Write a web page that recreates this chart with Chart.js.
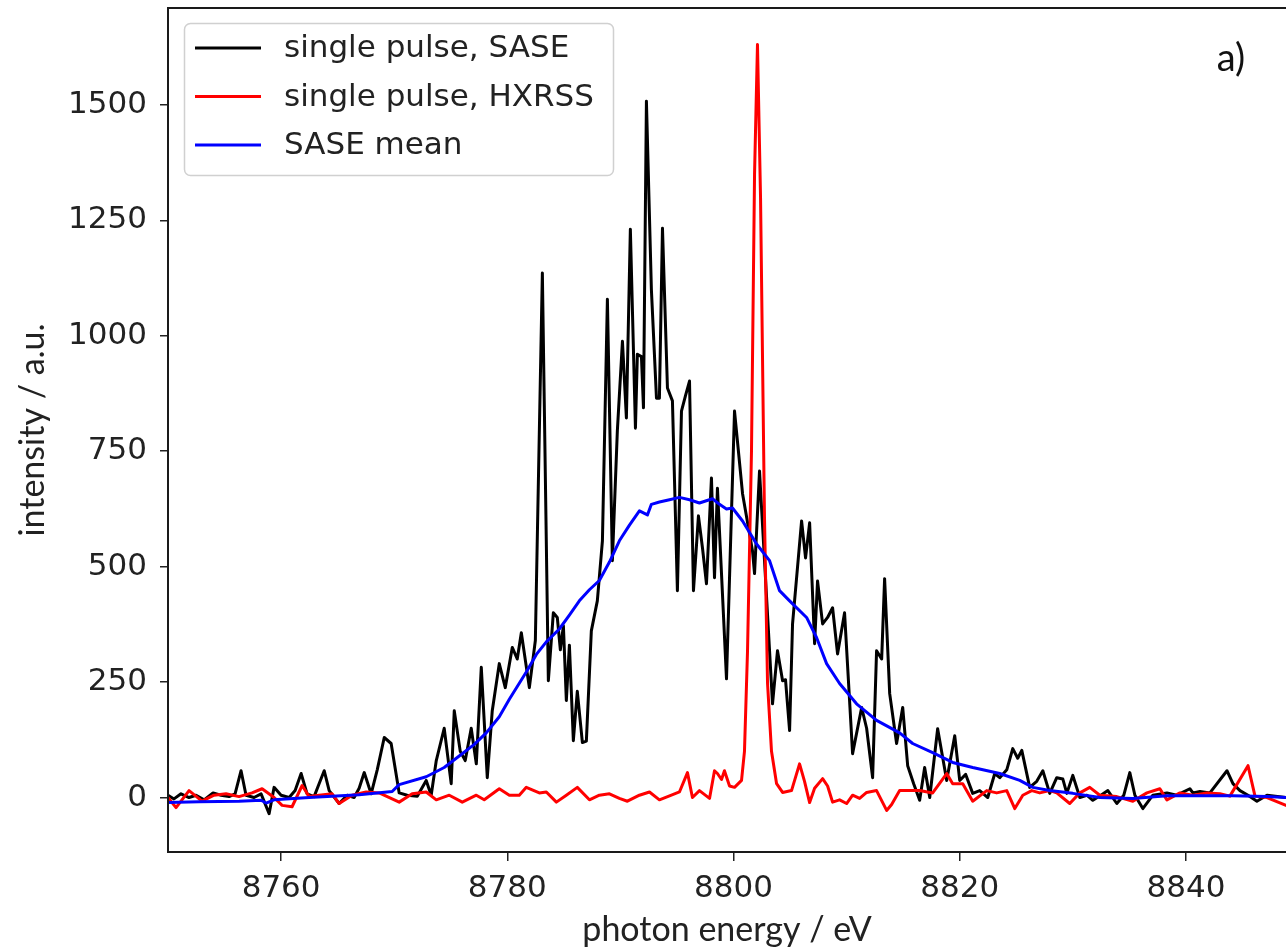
<!DOCTYPE html>
<html><head><meta charset="utf-8">
<script src="https://cdn.jsdelivr.net/npm/chart.js@4.4.1/dist/chart.umd.min.js"></script>
<style>html,body{margin:0;padding:0;background:#fff;overflow:hidden}</style>
</head><body>
<canvas id="c" width="1286" height="948"></canvas>
<script>
// ---- data ----
const energySASE = [8750.00,8750.53,8751.15,8751.86,8752.48,8753.19,8753.98,8754.69,8755.40,8755.93,
8756.46,8756.90,8757.61,8758.23,8758.94,8759.38,8760.00,8760.71,8761.24,8761.77,
8762.30,8762.92,8763.36,8763.81,8764.25,8765.13,8765.84,8766.46,8766.90,8767.35,
8767.96,8768.50,8769.12,8769.73,8770.44,8771.15,8772.04,8772.83,8773.27,8773.72,
8774.42,8775.04,8775.31,8775.84,8776.28,8776.81,8777.26,8777.70,8778.23,8778.67,
8779.29,8779.82,8780.44,8780.88,8781.24,8781.95,8782.48,8783.10,8783.63,8784.07,
8784.42,8784.69,8784.96,8785.22,8785.49,8785.84,8786.19,8786.64,8786.99,8787.43,
8787.96,8788.41,8788.85,8789.29,8789.73,8790.18,8790.53,8790.88,8791.33,8791.50,
8791.86,8792.04,8792.30,8792.74,8793.19,8793.45,8793.72,8794.16,8794.60,8795.04,
8795.40,8795.75,8796.11,8796.46,8796.90,8797.26,8797.61,8798.05,8798.32,8798.58,
8799.38,8800.09,8800.80,8801.68,8801.86,8802.30,8803.45,8803.89,8804.34,8804.60,
8804.96,8805.22,8806.02,8806.37,8806.73,8807.17,8807.43,8807.88,8808.32,8808.76,
8809.20,8809.82,8810.53,8811.33,8811.77,8812.30,8812.65,8813.10,8813.36,8813.81,
8814.42,8814.96,8815.40,8815.93,8816.46,8816.90,8817.35,8818.05,8818.85,8819.56,
8820.00,8820.53,8821.15,8821.77,8822.48,8823.10,8823.54,8824.16,8824.69,8825.13,
8825.49,8826.19,8826.81,8827.35,8827.96,8828.58,8829.12,8829.47,8830.00,8830.62,
8831.24,8831.77,8832.48,8833.10,8833.89,8834.51,8835.04,8835.49,8836.19,8837.08,
8838.32,8839.20,8840.35,8840.62,8841.24,8842.12,8843.63,8844.16,8844.78,8845.49,
8846.28,8847.17,8848.85];
const intensitySASE = [5,-3,8,0,5,-5,10,5,2,8,
58,5,0,8,-35,22,5,0,15,52,
8,2,30,58,15,-13,5,0,20,54,
8,60,130,117,10,5,3,37,5,80,
150,30,188,100,80,150,73,282,43,188,
290,238,325,300,357,238,340,1136,253,400,
390,320,372,210,330,123,230,119,122,361,
426,556,1079,513,794,988,822,1231,800,960,
955,844,1508,1100,865,865,1233,887,859,448,
837,870,902,448,610,540,463,692,476,670,
257,837,658,534,485,707,203,318,253,255,
145,376,599,519,595,333,469,376,390,411,
311,400,95,195,150,43,318,300,474,225,
117,195,69,30,-6,65,0,149,37,134,
37,50,9,15,0,52,43,60,106,85,
102,22,35,58,9,43,40,9,48,0,
5,-6,5,15,-13,5,54,5,-24,5,
10,5,19,10,13,10,58,30,15,5,
-8,5,0];

const energyHXRSS = [8750.00,8750.71,8751.86,8753.01,8754.07,8755.13,8756.28,8757.43,8758.32,8759.38,
8760.09,8760.97,8761.86,8762.48,8763.36,8764.51,8765.13,8766.28,8767.52,8768.67,
8770.44,8771.59,8772.83,8773.72,8774.87,8776.02,8777.26,8777.96,8779.29,8780.18,
8781.06,8781.68,8782.83,8783.45,8784.34,8785.22,8786.19,8787.26,8788.14,8789.03,
8789.91,8790.62,8791.68,8792.57,8793.45,8794.51,8795.22,8795.93,8796.37,8796.99,
8797.88,8798.32,8798.58,8798.94,8799.20,8799.65,8800.09,8800.71,8800.97,8801.24,
8801.59,8801.86,8802.12,8802.39,8802.74,8803.01,8803.36,8803.81,8804.34,8805.13,
8805.84,8806.28,8806.73,8807.17,8807.88,8808.32,8808.76,8809.38,8810.00,8810.53,
8811.15,8811.77,8812.65,8813.54,8813.98,8814.69,8815.58,8816.46,8817.61,8818.85,
8819.38,8820.27,8821.15,8822.39,8823.27,8824.16,8824.87,8825.58,8826.37,8827.08,
8827.96,8828.58,8829.73,8830.62,8831.50,8832.39,8833.89,8835.31,8836.55,8837.70,
8838.32,8839.47,8840.62,8841.86,8843.01,8843.89,8845.49,8846.11,8847.17,8848.85];
const intensityHXRSS = [0,-22,15,-8,5,8,2,10,19,0,
-17,-20,26,2,5,8,-13,5,12,10,
-10,8,12,-5,5,-10,5,-5,19,5,
5,22,10,12,-10,5,22,-5,5,8,
-2,-8,5,12,-5,5,12,54,0,15,
-2,58,52,39,58,25,22,37,100,318,
750,1350,1631,1300,606,247,100,30,11,15,
73,35,-11,20,41,25,-10,-5,-13,5,
-2,11,15,-28,-15,15,15,15,10,52,
30,30,-8,15,10,15,-24,5,15,10,
15,10,-13,10,22,5,2,-8,10,19,
-5,10,5,10,8,3,69,3,0,-17];

const energyMean = [8750.00,8752.74,8756.28,8758.23,8758.67,8759.38,8762.48,8766.90,8769.82,8770.44,
8772.83,8774.42,8775.75,8777.08,8778.14,8779.29,8780.18,8781.68,8782.57,8783.45,
8784.60,8785.49,8786.37,8787.26,8788.14,8789.03,8789.91,8790.80,8791.68,8792.39,
8792.74,8793.45,8794.34,8795.22,8796.11,8796.99,8798.14,8798.76,8799.38,8799.91,
8800.80,8802.04,8803.19,8804.07,8804.96,8806.46,8807.35,8808.23,8809.38,8810.88,
8812.65,8814.69,8815.84,8817.61,8819.38,8821.15,8823.54,8825.31,8826.46,8827.96,
8830.00,8832.39,8835.31,8838.32,8841.24,8844.16,8847.17,8848.85];
const intensityMean = [-11,-9,-8,-6,-12,-5,0,6,13,28,
45,65,90,115,140,175,213,272,310,337,
365,395,426,450,470,510,556,590,621,612,
635,640,645,650,645,638,647,635,625,627,
599,549,513,448,426,390,346,290,247,203,
167,140,117,97,76,65,52,37,22,15,
9,0,-2,4,4,4,2,0];

const seriesLabels = ['single pulse, SASE', 'single pulse, HXRSS', 'SASE mean'];
const xTickValues = [8760, 8780, 8800, 8820, 8840];
const yTickValues = [0, 250, 500, 750, 1000, 1250, 1500];
const xTitle = 'photon energy / eV';
const yTitle = 'intensity / a.u.';
const panelLabel = 'a)';

// ---- chart ----
const toPoints = (xs, ys) => xs.map((x, i) => ({x: x, y: ys[i]}));
const TXT = '#222222';

const decorations = {
  id: 'decorations',
  afterDatasetsDraw(chart) {
    const {ctx, chartArea: a} = chart;
    ctx.save();
    // frame (top, left, bottom)
    ctx.strokeStyle = '#1a1a1a';
    ctx.lineWidth = 2;
    ctx.beginPath();
    ctx.moveTo(chart.width + 2, a.top);
    ctx.lineTo(a.left, a.top);
    ctx.lineTo(a.left, a.bottom);
    ctx.lineTo(chart.width + 2, a.bottom);
    ctx.stroke();

    // legend
    ctx.beginPath();
    ctx.roundRect(184.5, 23.5, 429, 152, 6);
    ctx.fillStyle = 'rgba(255,255,255,0.85)';
    ctx.fill();
    ctx.strokeStyle = '#d0d0d0';
    ctx.lineWidth = 1.5;
    ctx.stroke();
    ctx.font = '31px "DejaVu Sans"';
    ctx.textBaseline = 'middle';
    ctx.textAlign = 'left';
    chart.data.datasets.forEach((ds, i) => {
      const y = 48 + i * 48.5;
      ctx.strokeStyle = ds.borderColor;
      ctx.lineWidth = 3;
      ctx.beginPath();
      ctx.moveTo(195, y);
      ctx.lineTo(261, y);
      ctx.stroke();
      ctx.fillStyle = TXT;
      ctx.fillText(ds.label, 284, y + 1);
    });

    // panel label
    ctx.font = '38px Lato';
    ctx.textAlign = 'center';
    ctx.fillStyle = '#111';
    ctx.fillText(panelLabel, 1231, 59);
    ctx.restore();
  }
};

new Chart(document.getElementById('c'), {
  type: 'line',
  data: {
    datasets: [
      {label: seriesLabels[0], data: toPoints(energySASE, intensitySASE), borderColor: '#000000', order: 3},
      {label: seriesLabels[1], data: toPoints(energyHXRSS, intensityHXRSS), borderColor: '#ff0000', order: 2},
      {label: seriesLabels[2], data: toPoints(energyMean, intensityMean), borderColor: '#0000ff', order: 1}
    ]
  },
  options: {
    responsive: false,
    animation: false,
    devicePixelRatio: 1,
    layout: {padding: {top: 8, left: 0, right: 0, bottom: 0}},
    elements: {
      line: {borderWidth: 3, tension: 0, fill: false, borderJoinStyle: 'round', borderCapStyle: 'round'},
      point: {radius: 0, hoverRadius: 0}
    },
    plugins: {legend: {display: false}, tooltip: {enabled: false}},
    scales: {
      x: {
        type: 'linear', min: 8750, max: 8848.85,
        afterBuildTicks: s => { s.ticks = xTickValues.map(v => ({value: v})); },
        afterFit: s => { s.height = 96; s.paddingLeft = 0; s.paddingRight = 0; },
        grid: {display: true, drawOnChartArea: false, drawTicks: true, tickLength: 9, color: '#222', lineWidth: 1.5},
        border: {display: false},
        ticks: {font: {family: 'DejaVu Sans', size: 31}, color: TXT, padding: 9, maxRotation: 0, autoSkip: false,
                callback: v => String(v)},
        title: {display: true, text: xTitle, color: TXT, font: {family: 'Lato', size: 34, lineHeight: 1},
                padding: {top: 0, bottom: 1}}
      },
      y: {
        type: 'linear', min: -118, max: 1710,
        afterBuildTicks: s => { s.ticks = yTickValues.map(v => ({value: v})); },
        afterFit: s => { s.width = 168; s.paddingTop = 0; s.paddingBottom = 0; },
        grid: {display: true, drawOnChartArea: false, drawTicks: true, tickLength: 8, color: '#222', lineWidth: 1.5},
        border: {display: false},
        ticks: {font: {family: 'DejaVu Sans', size: 31}, color: TXT, padding: 13, autoSkip: false,
                callback: v => String(v)},
        title: {display: true, text: yTitle, color: TXT, font: {family: 'Lato', size: 34, lineHeight: 1},
                padding: {top: 16, bottom: 0}}
      }
    }
  },
  plugins: [decorations]
});
</script>
</body></html>
